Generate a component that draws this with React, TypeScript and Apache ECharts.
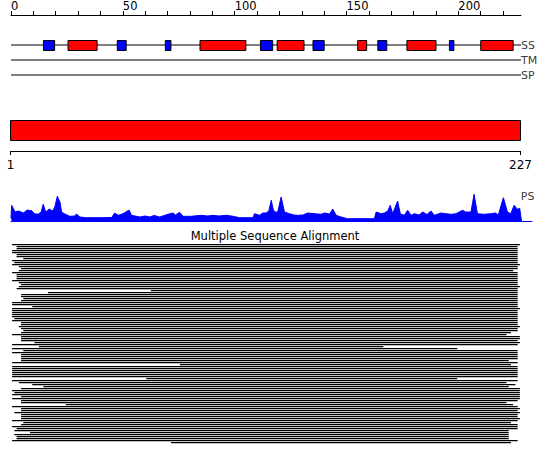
import React, { useEffect, useRef } from 'react';
import * as echarts from 'echarts';

// ---------- data ----------
const AXIS_MAX = 228;
const TOP_TICKS = [0, 10, 20, 30, 40, 50, 60, 70, 80, 90, 100, 110, 120, 130, 140, 150, 160, 170, 180, 190, 200, 210, 220];
const TOP_LABELS = [0, 50, 100, 150, 200];

const TRACK_NAMES = ['SS', 'TM', 'SP'];
const TRACK_Y = [30, 45, 60];

// secondary structure elements: start, end (residue coordinate), type
const SS_START = [14.5, 25.5, 47.5, 69, 84.5, 111.5, 119, 135, 155, 164, 177, 196, 210];
const SS_END = [19.5, 38.5, 51.5, 71.5, 105, 117, 131, 140, 159, 168, 190, 198, 224.5];
const SS_TYPE = ['E', 'H', 'E', 'E', 'H', 'E', 'H', 'E', 'H', 'E', 'H', 'E', 'H'];

const SEQ_FIRST = 1;
const SEQ_LAST = 227;

// PS profile: [position, value]
const PS_PROFILE: [number, number][] = [
  [0, 3], [0.3, 15.7], [1.8, 9], [3.3, 10], [4.5, 9], [5.5, 8], [7.3, 11], [8.3, 10.5], [9.2, 10.5],
  [10.7, 7], [12.2, 7], [13.5, 9], [14.4, 16.7], [15.5, 9], [17.1, 12], [18.6, 10], [19.6, 14],
  [20.7, 24.7], [21.9, 19], [22.6, 9], [24.1, 7], [26.3, 4.7], [28.5, 5], [29.3, 7], [30.8, 4],
  [33.8, 3.3], [39.7, 3.3], [45, 3.5], [46.4, 8], [47.9, 5.7], [50.1, 7.3], [52.8, 11], [53.9, 5.7],
  [57.6, 4], [60, 5], [62.1, 4], [64, 5.5], [66.5, 4], [71, 7.3], [72.5, 8], [73.5, 6], [75.4, 8.7],
  [76.9, 4.7], [80.7, 4.7], [85.1, 5.7], [88, 5], [90.3, 5.7], [93, 5], [96.3, 5.7], [99.3, 4.7],
  [102.2, 3.3], [108.2, 3.3], [108.9, 7.3], [111.2, 5.7], [112.6, 8], [114.1, 8], [115.3, 10],
  [116.4, 20.7], [117.2, 12], [117.9, 9], [119.3, 9], [120.8, 24], [122.3, 9], [124.6, 7.3],
  [126.5, 6], [128.3, 5.7], [130.5, 6], [132.7, 8], [135.7, 7.3], [138.7, 6.7], [140.2, 8],
  [142.5, 7], [143.9, 12], [145.4, 5.7], [147.6, 4], [150.6, 2.3], [162.5, 2.3], [163.3, 9],
  [165.5, 7.3], [167, 8], [168.5, 10], [169.6, 15.7], [170.7, 7.3], [172.9, 20], [174.1, 7.3],
  [175.9, 5.7], [177.4, 10.7], [178.9, 5.7], [180.4, 7.3], [182.5, 6], [184.1, 9], [186, 6.5],
  [187.8, 10], [189.3, 5.7], [192.3, 8], [194.5, 7.3], [196.7, 6.7], [199, 7.3], [201.9, 10.7],
  [203.4, 9], [205.7, 9], [207.1, 26.7], [208.6, 7.3], [211.6, 6.7], [214.6, 7.3], [216.8, 8],
  [217.9, 5.7], [220.2, 23.3], [222, 9], [223.5, 7.3], [225, 15.7], [226.5, 11.7], [227.5, 12.7],
  [228.3, 0],
];

// multiple sequence alignment: first and last aligned residue per sequence
const MSA_START = [
  1, 3, 3, 1, 1, 3, 3, 6, 1, 2,
  1, 4, 5, 4, 1, 3, 3, 3, 1, 4,
  5, 4, 3, 63, 17, 5, 5, 6, 5, 1,
  1, 10, 1, 1, 1, 1, 1, 2, 1, 5,
  5, 4, 5, 6, 5, 1, 5, 5, 5, 11,
  1, 13, 1, 6, 1, 5, 5, 5, 5, 1,
  76, 1, 1, 1, 1, 1, 1, 61, 1, 4,
  10, 15, 5, 1, 2, 1, 5, 1, 5, 5,
  25, 1, 5, 5, 2, 5, 5, 5, 1, 6,
  5, 1, 3, 2, 9, 2, 3, 3, 1, 72,
];
const MSA_END = [
  227, 226, 226, 226, 226, 226, 226, 226, 226, 226,
  227, 226, 226, 224, 226, 226, 226, 226, 226, 226,
  226, 227, 226, 226, 226, 226, 226, 226, 226, 226,
  226, 226, 227, 226, 226, 226, 226, 226, 226, 226,
  226, 227, 226, 226, 223, 221, 227, 227, 226, 227,
  226, 166, 199, 226, 226, 226, 226, 226, 222, 226,
  223, 226, 226, 226, 226, 226, 226, 199, 226, 221,
  225, 222, 227, 227, 227, 227, 227, 227, 226, 221,
  224, 226, 227, 226, 227, 226, 226, 227, 226, 223,
  226, 226, 226, 222, 222, 222, 222, 222, 226, 223,
];

const MSA_TITLE = 'Multiple Sequence Alignment';

const FONT = 'DejaVu Sans';

export default function App() {
  const ref = useRef<HTMLDivElement>(null);

  useEffect(() => {
    document.body.style.margin = '0';
    if (!ref.current) return;
    const chart = echarts.init(ref.current, null, { renderer: 'svg' });

    const ssData = SS_START.map((s, i) => [s, SS_END[i], SS_TYPE[i] === 'E' ? 1 : 0]);
    const msaData = MSA_START.map((s, i) => [i, s, MSA_END[i]]);

    const option: any = {
      animation: false,
      backgroundColor: '#ffffff',
      textStyle: { fontFamily: FONT },
      title: {
        text: MSA_TITLE,
        left: 'center',
        top: 225,
        textStyle: { fontFamily: FONT, fontSize: 11.5, fontWeight: 'normal', color: '#000' },
      },
      grid: [
        { left: 11, width: 510, top: 15, height: 75 },
        { left: 10.5, width: 510, top: 120, height: 21 },
        { left: 11, width: 521, top: 191, height: 30 },
        { left: 11, width: 510, top: 244, height: 200 },
      ],
      xAxis: [
        {
          gridIndex: 0, type: 'value', min: 0, max: AXIS_MAX, position: 'top',
          splitLine: { show: false },
          axisLine: { show: true, onZero: false, lineStyle: { color: '#000', width: 1 } },
          axisTick: { show: true, length: 4, customValues: TOP_TICKS, lineStyle: { color: '#000' } },
          axisLabel: {
            show: true, customValues: TOP_LABELS, align: 'left', margin: 3,
            fontSize: 11.5, color: '#000', fontFamily: FONT,
          },
        },
        {
          gridIndex: 1, type: 'value', min: SEQ_FIRST, max: SEQ_LAST, position: 'bottom', offset: 10,
          splitLine: { show: false },
          axisLine: { show: true, onZero: false, lineStyle: { color: '#000', width: 1 } },
          axisTick: { show: true, length: 4, customValues: [SEQ_FIRST, SEQ_LAST], lineStyle: { color: '#000' } },
          axisLabel: {
            show: true, customValues: [SEQ_FIRST, SEQ_LAST], margin: 8,
            fontSize: 12, color: '#000', fontFamily: FONT,
          },
        },
        {
          gridIndex: 2, type: 'value', min: 0, max: 233,
          splitLine: { show: false },
          axisLine: { show: true, onZero: false, lineStyle: { color: '#0000ff', width: 1 } },
          axisTick: { show: false }, axisLabel: { show: false },
        },
        {
          gridIndex: 3, type: 'value', min: 0, max: AXIS_MAX, show: false,
        },
      ],
      yAxis: [
        { gridIndex: 0, type: 'value', min: 0, max: 75, inverse: true, show: false },
        { gridIndex: 1, type: 'value', min: 0, max: 21, inverse: true, show: false },
        { gridIndex: 2, type: 'value', min: 0, max: 30, show: false },
        { gridIndex: 3, type: 'value', min: 0, max: 100, inverse: true, show: false },
      ],
      series: [
        ...TRACK_NAMES.map((name, i) => ({
          type: 'line', xAxisIndex: 0, yAxisIndex: 0, showSymbol: false, symbol: 'none',
          lineStyle: { color: '#000', width: 1 },
          data: [[0, TRACK_Y[i]], [AXIS_MAX, TRACK_Y[i]]],
          z: 2,
        })),
        {
          type: 'scatter', xAxisIndex: 0, yAxisIndex: 0, symbolSize: 0,
          data: TRACK_NAMES.map((name, i) => ({ name, value: [AXIS_MAX, TRACK_Y[i]] })),
          label: {
            show: true, position: 'right', distance: 0, formatter: (p: any) => p.name,
            fontSize: 11, color: '#000', fontFamily: FONT,
          },
          z: 3,
        },
        {
          type: 'custom', xAxisIndex: 0, yAxisIndex: 0,
          data: ssData,
          encode: { x: [0, 1] },
          renderItem: (params: any, api: any) => {
            const p1 = api.coord([api.value(0), 25.5]);
            const p2 = api.coord([api.value(1), 35.5]);
            return {
              type: 'rect',
              shape: { x: p1[0], y: p1[1], width: p2[0] - p1[0], height: p2[1] - p1[1] },
              style: { fill: api.value(2) === 1 ? '#0000ff' : '#ff0000', stroke: '#000', lineWidth: 1 },
            };
          },
          z: 5,
        },
        {
          type: 'custom', xAxisIndex: 1, yAxisIndex: 1,
          data: [[SEQ_FIRST, SEQ_LAST]],
          encode: { x: [0, 1] },
          renderItem: (params: any, api: any) => {
            const p1 = api.coord([api.value(0), 0.5]);
            const p2 = api.coord([api.value(1), 20.5]);
            return {
              type: 'rect',
              shape: { x: p1[0], y: p1[1], width: p2[0] - p1[0], height: p2[1] - p1[1] },
              style: { fill: '#ff0000', stroke: '#000', lineWidth: 1 },
            };
          },
        },
        {
          type: 'line', xAxisIndex: 2, yAxisIndex: 2, showSymbol: false, symbol: 'none',
          data: PS_PROFILE,
          lineStyle: { color: '#0000ff', width: 1 },
          areaStyle: { color: '#0000ff', opacity: 1 },
        },
        {
          type: 'scatter', xAxisIndex: 2, yAxisIndex: 2, symbolSize: 0,
          data: [{ name: 'PS', value: [228, 25] }],
          label: {
            show: true, position: 'right', distance: 0, formatter: (p: any) => p.name,
            fontSize: 11, color: '#000', fontFamily: FONT,
          },
        },
        {
          type: 'custom', xAxisIndex: 3, yAxisIndex: 3,
          data: msaData,
          encode: { x: [1, 2], y: 0 },
          renderItem: (params: any, api: any) => {
            const row = api.value(0);
            const a = api.coord([api.value(1) - 0.5, row]);
            const b = api.coord([api.value(2) + 0.5, row]);
            return {
              type: 'rect',
              shape: { x: a[0], y: a[1], width: b[0] - a[0], height: 1.3 },
              style: { fill: '#000' },
            };
          },
        },
      ],
    };

    chart.setOption(option);
    return () => chart.dispose();
  }, []);

  return (
    <div
      ref={ref}
      style={{ position: 'fixed', left: 0, top: 0, width: 550, height: 465, background: '#fff' }}
    />
  );
}
